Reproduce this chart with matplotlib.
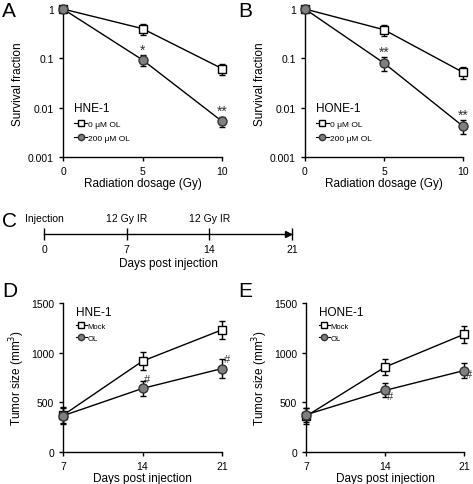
import matplotlib
matplotlib.use("Agg")
import matplotlib.pyplot as plt
from matplotlib.lines import Line2D

plt.rcParams['font.family'] = ['Liberation Sans', 'DejaVu Sans']
plt.rcParams['axes.linewidth'] = 1.0

# --- data ---
dose = [0, 5, 10]
hne_ctrl = [1.0, 0.40, 0.062]
hne_ctrl_err = [0.0, 0.10, 0.016]
hne_ol = [1.0, 0.093, 0.0053]
hne_ol_err = [0.0, 0.022, 0.0013]
hone_ctrl = [1.0, 0.38, 0.052]
hone_ctrl_err = [0.0, 0.09, 0.014]
hone_ol = [1.0, 0.080, 0.0042]
hone_ol_err = [0.0, 0.024, 0.0013]

days = [7, 14, 21]
hne_mock = [370, 915, 1230]
hne_mock_err = [80, 90, 90]
hne_tum_ol = [365, 640, 840]
hne_tum_ol_err = [80, 75, 95]
hone_mock = [360, 855, 1185]
hone_mock_err = [80, 80, 85]
hone_tum_ol = [375, 620, 820]
hone_tum_ol_err = [70, 70, 75]

timeline_days = [0, 7, 14, 21]
timeline_events = ['Injection', '12 Gy IR', '12 Gy IR']

W, H = 473, 485
fig = plt.figure(figsize=(W / 100, H / 100), dpi=100)


def px_axes(x0, y0, x1, y1):
    return fig.add_axes([x0 / W, 1 - y1 / H, (x1 - x0) / W, (y1 - y0) / H])


GRAY = '#7f7f7f'
EDGE = '#333333'


def style(ax):
    for s in ['top', 'right']:
        ax.spines[s].set_visible(False)
    ax.tick_params(labelsize=7.5, length=3, width=1, direction='out')


def legend_handles():
    return [Line2D([], [], color='black', marker='s', ms=4, mfc='white', mec='black', lw=0.8),
            Line2D([], [], color='black', marker='o', ms=4.5, mfc=GRAY, mec=EDGE, lw=0.8)]


def survival(ax, ctrl, ctrl_err, ol, ol_err, name, stars):
    ax.errorbar(dose, ctrl, yerr=ctrl_err, color='black', marker='s', ms=6,
                mfc='white', mec='black', capsize=2, lw=1, elinewidth=1, clip_on=False, zorder=3)
    ax.errorbar(dose, ol, yerr=ol_err, color='black', marker='o', ms=6.5,
                mfc=GRAY, mec=EDGE, capsize=2, lw=1, elinewidth=1, clip_on=False, zorder=3)
    ax.set_yscale('log')
    ax.set_ylim(0.001, 1)
    ax.set_xlim(0, 10)
    ax.set_xticks([0, 5, 10])
    ax.set_yticks([0.001, 0.01, 0.1, 1])
    ax.set_yticklabels(['0.001', '0.01', '0.1', '1'])
    ax.minorticks_off()
    ax.set_xlabel('Radiation dosage (Gy)', fontsize=8.5, labelpad=1)
    ax.set_ylabel('Survival fraction', fontsize=8.5, labelpad=3)
    style(ax)
    for x, y, e, s in zip(dose[1:], ol[1:], ol_err[1:], stars):
        ax.text(x, (y + e) * 0.95, s, ha='center', va='bottom', fontsize=10, color='#333333')
    leg = ax.legend(legend_handles(), ['0 \u03bcM OL', '200 \u03bcM OL'], title=name, loc='lower left',
                    bbox_to_anchor=(0.05, 0.08), frameon=False, fontsize=6, title_fontsize=8.5,
                    handlelength=1.5, handletextpad=0.1, labelspacing=0.7, borderaxespad=0)
    leg._legend_box.align = 'left'


def tumor(ax, mock, mock_err, ol, ol_err, name, marks):
    ax.errorbar(days, mock, yerr=mock_err, color='black', marker='s', ms=6,
                mfc='white', mec='black', capsize=2, lw=1, elinewidth=1, clip_on=False, zorder=3)
    ax.errorbar(days, ol, yerr=ol_err, color='black', marker='o', ms=6.5,
                mfc=GRAY, mec=EDGE, capsize=2, lw=1, elinewidth=1, clip_on=False, zorder=3)
    ax.set_xlim(7, 21)
    ax.set_ylim(0, 1500)
    ax.set_xticks(days)
    ax.set_yticks([0, 500, 1000, 1500])
    ax.set_xlabel('Days post injection', fontsize=8.5, labelpad=1)
    ax.set_ylabel('Tumor size (mm$^3$)', fontsize=8.5, labelpad=3)
    style(ax)
    for x, y, (dx, dy) in zip(days[1:], ol[1:], marks):
        ax.text(x + dx, y + dy, '#', ha='left', va='center', fontsize=8, color='#333333')
    leg = ax.legend(legend_handles(), ['Mock', 'OL'], title=name, loc='upper left',
                    bbox_to_anchor=(0.06, 1.0), frameon=False, fontsize=5.5, title_fontsize=8.5,
                    handlelength=1.5, handletextpad=0.1, labelspacing=0.6, borderaxespad=0)
    leg._legend_box.align = 'left'


axA = px_axes(63, 10, 222, 158)
survival(axA, hne_ctrl, hne_ctrl_err, hne_ol, hne_ol_err, 'HNE-1', ['*', '**'])
axB = px_axes(305, 10, 463, 158)
survival(axB, hone_ctrl, hone_ctrl_err, hone_ol, hone_ol_err, 'HONE-1', ['**', '**'])

axD = px_axes(63, 304, 222, 453)
tumor(axD, hne_mock, hne_mock_err, hne_tum_ol, hne_tum_ol_err, 'HNE-1',
      [(0.15, 90), (0.15, 100)])
axE = px_axes(306, 304, 464, 453)
tumor(axE, hone_mock, hone_mock_err, hone_tum_ol, hone_tum_ol_err, 'HONE-1',
      [(0.15, -60), (0.15, -30)])

# timeline C
axC = px_axes(44, 215, 292, 235)
axC.set_xlim(0, 21)
axC.set_ylim(0, 1)
for s in ['top', 'right', 'left']:
    axC.spines[s].set_visible(False)
axC.set_yticks([])
axC.set_xticks(timeline_days)
axC.tick_params(axis='x', direction='inout', length=9, width=1, labelsize=7.5, pad=3)
axC.plot([20.7], [0], marker='>', color='black', ms=5, clip_on=False)
for d, ev in zip(timeline_days, timeline_events):
    axC.text(d, 0.55, ev, ha='center', va='bottom', fontsize=7.5)
axC.set_xlabel('Days post injection', fontsize=8.5, labelpad=2)

for letter, x, y in [('A', 2, 2), ('B', 238, 2), ('C', 2, 212), ('D', 2, 282), ('E', 238, 282)]:
    fig.text(x / W, 1 - y / H, letter, fontsize=15, ha='left', va='top')

fig.savefig('out.png', dpi=100)
